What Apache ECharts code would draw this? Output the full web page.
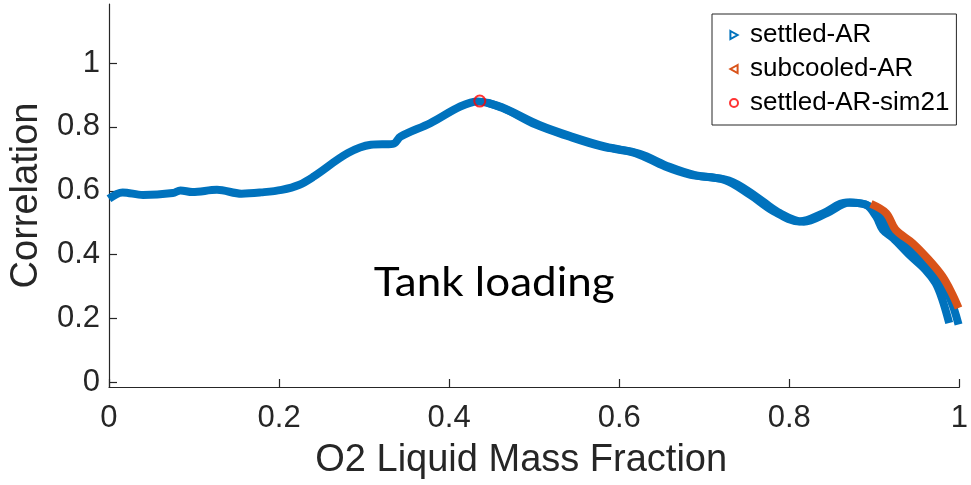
<!DOCTYPE html>
<html>
<head>
<meta charset="utf-8">
<script src="https://cdn.jsdelivr.net/npm/echarts@6/dist/echarts.min.js"></script>
<style>
  html, body { margin: 0; padding: 0; background: #fff; }
  #chart { width: 971px; height: 485px; }
</style>
</head>
<body>
<div id="chart"></div>
<script>
// Correlation against O2 liquid mass fraction during tank loading

const xTicks = [0, 0.2, 0.4, 0.6, 0.8, 1];
const yTicks = [0, 0.2, 0.4, 0.6, 0.8, 1];

// settled-AR, first run: [mass fraction, correlation]
const settledRun1 = [
  [0.000, 0.575], [0.016, 0.595], [0.040, 0.587], [0.075, 0.593], [0.084, 0.601],
  [0.098, 0.596], [0.127, 0.603], [0.156, 0.591], [0.179, 0.595], [0.203, 0.603],
  [0.224, 0.619], [0.241, 0.645], [0.281, 0.718], [0.308, 0.744], [0.334, 0.747],
  [0.343, 0.770], [0.378, 0.812], [0.413, 0.864], [0.434, 0.880], [0.463, 0.859],
  [0.502, 0.807], [0.541, 0.770], [0.579, 0.739], [0.619, 0.718], [0.654, 0.676],
  [0.684, 0.650], [0.724, 0.634], [0.754, 0.587], [0.782, 0.535], [0.812, 0.504],
  [0.840, 0.530], [0.867, 0.563], [0.890, 0.556], [0.902, 0.520], [0.910, 0.478],
  [0.922, 0.452], [0.941, 0.400], [0.960, 0.353], [0.972, 0.311], [0.980, 0.259],
  [0.988, 0.186]
];

// settled-AR, second run
const settledRun2 = [
  [0.445, 0.876], [0.466, 0.857], [0.506, 0.806], [0.545, 0.769], [0.584, 0.738],
  [0.624, 0.716], [0.659, 0.675], [0.689, 0.649], [0.729, 0.632], [0.759, 0.586],
  [0.787, 0.533], [0.817, 0.503], [0.845, 0.531], [0.871, 0.563], [0.893, 0.553],
  [0.914, 0.499], [0.933, 0.447], [0.953, 0.384], [0.972, 0.332], [0.988, 0.269],
  [0.999, 0.181]
];

// subcooled-AR
const subcooled = [
  [0.896, 0.559], [0.914, 0.530], [0.925, 0.478], [0.945, 0.436], [0.964, 0.384],
  [0.980, 0.332], [0.991, 0.280], [0.999, 0.233]
];

// settled-AR-sim21 single point
const sim21 = [[0.436, 0.881]];

const annotation = { text: 'Tank loading', at: [0.453, 0.31] };

const BLUE = '#0072BD';
const ORANGE = '#D95319';
const RED = '#FF0000';
const AXIS = '#262626';
const FONT = '"Liberation Sans", Arial, Helvetica, sans-serif';

const chart = echarts.init(document.getElementById('chart'), null, { renderer: 'canvas' });

function curve(name, data, color, z) {
  return {
    name: name,
    type: 'line',
    data: data,
    smooth: 0.35,
    showSymbol: false,
    symbol: 'none',
    z: z,
    lineStyle: { color: color, width: 8 },
    itemStyle: { color: color },
    emphasis: { disabled: true },
    animation: false
  };
}

chart.setOption({
  animation: false,
  backgroundColor: '#ffffff',
  grid: { left: 106, right: 5, top: 4, bottom: 98, containLabel: false },
  xAxis: {
    type: 'value',
    min: 0,
    max: 1,
    interval: 0.2,
    name: 'O2 Liquid Mass Fraction',
    nameLocation: 'middle',
    nameGap: 55,
    nameTextStyle: { fontFamily: FONT, fontSize: 38, color: AXIS, padding: [0, 26, 0, 0] },
    axisLine: { onZero: false, lineStyle: { color: AXIS, width: 1.2 } },
    axisTick: { inside: true, length: 8, lineStyle: { color: AXIS, width: 1.2 } },
    axisLabel: {
      fontFamily: FONT, fontSize: 31, color: AXIS, margin: 16,
      customValues: xTicks
    },
    splitLine: { show: false }
  },
  yAxis: {
    type: 'value',
    min: -0.0145,
    max: 1.185,
    name: 'Correlation',
    nameLocation: 'middle',
    nameGap: 56,
    nameTextStyle: { fontFamily: FONT, fontSize: 38, color: AXIS },
    axisLine: { show: true, onZero: false, lineStyle: { color: AXIS, width: 1.2 } },
    axisTick: { show: true, inside: true, length: 8, lineStyle: { color: AXIS, width: 1.2 }, customValues: yTicks },
    axisLabel: { fontFamily: FONT, fontSize: 31, color: AXIS, margin: 9, customValues: yTicks },
    splitLine: { show: false }
  },
  legend: {
    orient: 'vertical',
    left: 712,
    top: 14,
    padding: [8, 7, 9, 17],
    itemWidth: 8,
    itemHeight: 8,
    itemGap: 8,
    backgroundColor: '#ffffff',
    borderColor: AXIS,
    borderWidth: 1,
    selectedMode: false,
    textStyle: { fontFamily: FONT, fontSize: 26, color: '#000', lineHeight: 24, padding: [0, 0, 0, 7] },
    data: [
      { name: 'settled-AR', icon: 'path://M0,0L9,5L0,10Z',
        itemStyle: { color: '#ffffff', borderColor: BLUE, borderWidth: 2 } },
      { name: 'subcooled-AR', icon: 'path://M9,0L0,5L9,10Z',
        itemStyle: { color: '#ffffff', borderColor: ORANGE, borderWidth: 2 } },
      { name: 'settled-AR-sim21', icon: 'circle',
        itemStyle: { color: '#ffffff', borderColor: RED, borderWidth: 2 } }
    ]
  },
  series: [
    curve('settled-AR', settledRun1, BLUE, 2),
    curve('settled-AR', settledRun2, BLUE, 2),
    curve('subcooled-AR', subcooled, ORANGE, 3),
    {
      name: 'settled-AR-sim21',
      type: 'scatter',
      data: sim21,
      symbol: 'circle',
      symbolSize: 11,
      z: 5,
      itemStyle: { color: 'rgba(0,0,0,0)', borderColor: RED, borderWidth: 2 },
      emphasis: { disabled: true }
    }
  ]
});

// Annotation anchored in data coordinates
const notePx = chart.convertToPixel({ gridIndex: 0 }, annotation.at);
chart.setOption({
  graphic: [{
    type: 'text',
    x: notePx[0],
    y: notePx[1],
    scaleX: 1.1,
    z: 10,
    style: {
      text: annotation.text,
      font: '40px Lato, "Open Sans", sans-serif',
      fill: '#000',
      textAlign: 'center',
      textVerticalAlign: 'middle'
    }
  }]
});
</script>
</body>
</html>
